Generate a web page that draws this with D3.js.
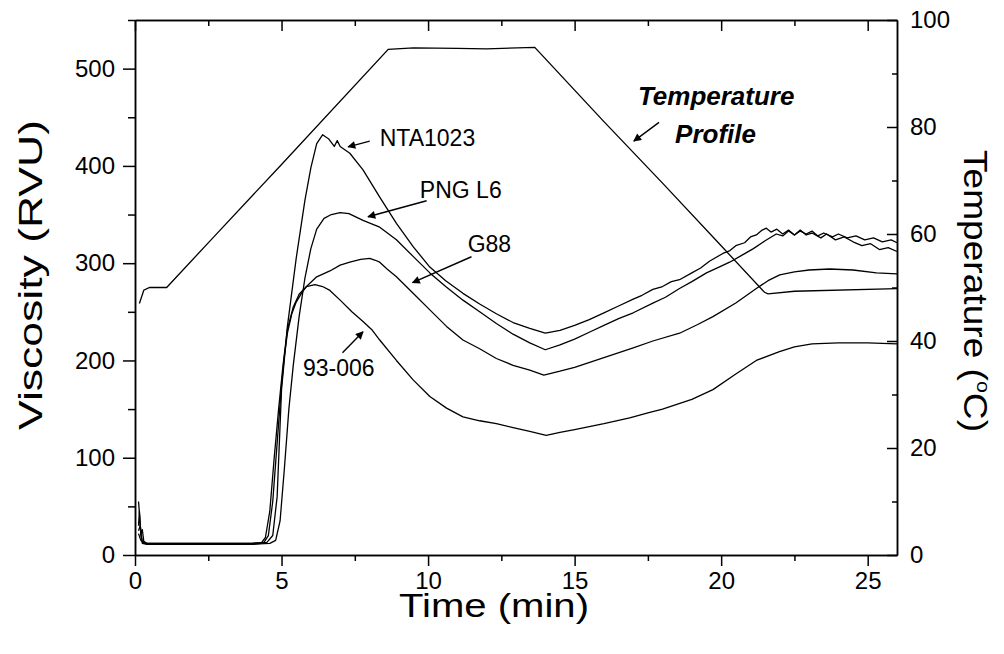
<!DOCTYPE html>
<html>
<head>
<meta charset="utf-8">
<script src="https://cdn.jsdelivr.net/npm/d3@7"></script>
<style>
  body { margin: 0; background: #fff; }
  svg { font-family: "Liberation Sans", Arial, sans-serif; }
  .axis path, .axis line { stroke: #000; stroke-width: 1.5; }
  .axis text { font-size: 24px; fill: #000; }
</style>
</head>
<body>
<div id="chart"></div>
<script>
// data: [time (min), viscosity (RVU)]
const nta1023 = [[0.12,30],[0.15,45],[0.2,20],[0.25,14],[0.35,12],[1,12],[2,12],[3,12],[4,12],[4.5,13],[4.7,20],
  [4.85,60],[5.0,170],[5.2,235],[5.5,305],[5.8,365],[6.0,398],[6.2,423],[6.4,432],[6.6,428],[6.8,420],[6.9,426],
  [7.0,420],[7.33,413],[7.78,396],[8.35,368],[8.92,341],[9.49,317],[10.06,296],[10.6,282],[11.19,269],[11.76,258],
  [12.33,248],[12.9,239],[13.47,233],[14.0,228],[14.5,231],[15,236],[15.5,242],[16,249],[16.5,256],[17,263],
  [17.3,267],[17.67,273],[18,276],[18.3,281],[18.58,283],[19,290],[19.3,295],[19.6,302],[20.06,310],[20.3,313],
  [20.5,318],[20.8,321],[21.0,327],[21.2,329],[21.4,334],[21.54,336],[21.7,332],[21.9,335],[22.1,330],[22.3,334],
  [22.5,329],[22.7,333],[22.9,330],[23.1,333],[23.3,328],[23.5,331],[23.8,327],[24.0,330],[24.3,326],[24.6,328],
  [24.9,324],[25.2,326],[25.5,322],[25.8,324],[26,321]]
const pngL6 = [[0.12,25],[0.18,30],[0.25,12],[0.4,11],[1,11],[2,11],[3,11],[4,11],[4.6,12],[4.8,15],[4.95,35],
  [5.1,90],[5.25,150],[5.4,195],[5.6,245],[5.8,285],[6.0,315],[6.2,335],[6.45,346],[6.7,350],[7.0,352],[7.3,351],
  [7.78,344],[8.35,337],[8.92,324],[9.49,307],[10.06,290],[10.6,276],[11.19,262],[11.76,250],[12.33,238],
  [12.9,227],[13.47,218],[14.0,211],[14.5,216],[15,222],[15.5,229],[16,236],[16.5,243],[17,249],[17.67,259],
  [18.1,265],[18.58,274],[19,281],[19.5,290],[20.0,297],[20.29,301],[20.7,308],[21.1,315],[21.5,323],[21.88,330],
  [22.1,328],[22.3,333],[22.5,329],[22.7,334],[22.9,329],[23.1,331],[23.4,326],[23.6,330],[23.9,324],[24.2,327],
  [24.5,322],[24.8,318],[25.1,320],[25.4,314],[25.7,316],[26,312]]
const g88 = [[0.12,22],[0.2,15],[0.3,12],[1,12],[2,12],[3,12],[4,12],[4.4,13],[4.55,20],[4.7,55],[4.85,115],
  [5.0,175],[5.1,205],[5.2,228],[5.35,248],[5.5,260],[5.7,270],[5.85,276],[6.2,286],[6.65,292],[7.0,298],[7.33,301],
  [7.7,304],[8.01,305],[8.2,303],[8.35,301],[8.6,294],[8.92,286],[9.49,269],[10.06,252],[10.63,235],[11.19,221],
  [11.76,212],[12.33,202],[12.9,195],[13.47,190],[13.95,185],[14.5,189],[15,193],[16,203],[17,213],[17.67,220],
  [18.58,228],[19.2,237],[19.72,245],[20.5,259],[21.2,274],[21.6,282],[22,288],[22.5,291],[23,293],[23.7,294],
  [24.5,293],[25.3,290],[26,289]]
const s93006 = [[0.12,55],[0.16,40],[0.2,22],[0.25,26],[0.3,14],[0.45,11],[1,11],[2,11],[3,11],[4,11],[4.3,12],
  [4.45,18],[4.6,45],[4.75,100],[4.9,150],[5.05,195],[5.2,232],[5.4,255],[5.6,268],[5.85,276],[6.14,278],[6.4,276],
  [6.65,272],[7.0,262],[7.4,250],[7.78,240],[8.1,231],[8.35,221],[8.92,200],[9.49,180],[10.06,163],[10.63,151],
  [11.19,142],[11.76,138],[12.33,135],[12.9,131],[13.47,127],[14.03,123],[14.5,126],[15,129],[16,135],[16.88,141],
  [17.5,146],[18,150],[19,160],[19.72,170],[20.5,186],[21.2,200],[21.99,209],[22.5,214],[23.1,217],[24,218],
  [25,218],[26,217]]
// [time (min), temperature (C)]
const tempProfile = [[0.15,47],[0.3,49.5],[0.5,50],[1.08,50],[2.61,59],[5,73],[8.64,94.5],[9.5,94.8],[11,94.7],
  [12,94.6],[13.64,94.9],[16,81],[18,69.5],[20,57.8],[21.48,49.1],[21.6,48.8],[22.5,49.3],[26,49.8]]

const xTicks = [0, 5, 10, 15, 20, 25]
const xMinor = [2.5, 7.5, 12.5, 17.5, 22.5]
const yTicks = [0, 100, 200, 300, 400, 500]
const yMinor = [50, 150, 250, 350, 450, 550]
const tTicks = [0, 20, 40, 60, 80, 100]
const tMinor = [10, 30, 50, 70, 90]

// labels: text position and arrow in data units (time, viscosity)
const notes = [
  {text: "NTA1023", x: 8.35, y: 420, from: [8.01, 425.5], to: [7.27, 419.6]},
  {text: "PNG L6", x: 9.72, y: 367, from: [9.95, 364.2], to: [7.95, 347.7]},
  {text: "G88", x: 11.35, y: 312, from: [11.48, 306.6], to: [9.47, 279.9]},
  {text: "93-006", x: 5.73, y: 184, from: [7.08, 208], to: [7.78, 229.5]}
]

const W = 1004, H = 654
const plot = {left: 135, right: 897, top: 20, bottom: 555}

const svg = d3.select("#chart").append("svg")
  .attr("width", W).attr("height", H)

const x = d3.scaleLinear().domain([0, 26]).range([plot.left, plot.right])
const y = d3.scaleLinear().domain([0, 550]).range([plot.bottom, plot.top])
const yT = d3.scaleLinear().domain([0, 100]).range([plot.bottom, plot.top])

svg.append("defs").append("marker")
  .attr("id", "head")
  .attr("viewBox", "0 0 10 10")
  .attr("refX", 9).attr("refY", 5)
  .attr("markerWidth", 11).attr("markerHeight", 8)
  .attr("markerUnits", "userSpaceOnUse")
  .attr("orient", "auto")
  .append("path").attr("d", "M0,0L10,5L0,10Z").attr("fill", "#000")

// bottom axis (outward ticks)
svg.append("g").attr("class", "axis")
  .attr("transform", `translate(0,${plot.bottom})`)
  .call(d3.axisBottom(x).tickValues(xTicks).tickSize(11).tickPadding(6).tickSizeOuter(0))
svg.append("g").attr("class", "axis")
  .attr("transform", `translate(0,${plot.bottom})`)
  .call(d3.axisBottom(x).tickValues(xMinor).tickSize(6).tickFormat("").tickSizeOuter(0))
// top axis (inward ticks)
svg.append("g").attr("class", "axis")
  .attr("transform", `translate(0,${plot.top})`)
  .call(d3.axisTop(x).tickValues(xTicks).tickSize(-11).tickFormat("").tickSizeOuter(0))
svg.append("g").attr("class", "axis")
  .attr("transform", `translate(0,${plot.top})`)
  .call(d3.axisTop(x).tickValues(xMinor).tickSize(-6).tickFormat("").tickSizeOuter(0))
// left axis
svg.append("g").attr("class", "axis")
  .attr("transform", `translate(${plot.left},0)`)
  .call(d3.axisLeft(y).tickValues(yTicks).tickSize(12).tickPadding(8).tickSizeOuter(0))
svg.append("g").attr("class", "axis")
  .attr("transform", `translate(${plot.left},0)`)
  .call(d3.axisLeft(y).tickValues(yMinor).tickSize(7).tickFormat("").tickSizeOuter(0))
// right axis, temperature, ticks inward
svg.append("g").attr("class", "axis")
  .attr("transform", `translate(${plot.right},0)`)
  .call(d3.axisRight(yT).tickValues(tTicks).tickSize(-10).tickPadding(13).tickSizeOuter(0))
svg.append("g").attr("class", "axis")
  .attr("transform", `translate(${plot.right},0)`)
  .call(d3.axisRight(yT).tickValues(tMinor).tickSize(-5).tickFormat("").tickSizeOuter(0))

svg.selectAll(".axis path.domain").attr("stroke-width", 1.8)

const line = d3.line().x(d => x(d[0])).y(d => y(d[1]))
const tline = d3.line().x(d => x(d[0])).y(d => yT(d[1]))

svg.selectAll(".curve")
  .data([nta1023, pngL6, g88, s93006])
  .enter().append("path")
  .attr("class", "curve")
  .attr("d", line)
  .attr("fill", "none")
  .attr("stroke", "#000")
  .attr("stroke-width", 1.3)
  .attr("stroke-linejoin", "round")

svg.append("path")
  .attr("d", tline(tempProfile))
  .attr("fill", "none")
  .attr("stroke", "#000")
  .attr("stroke-width", 1.3)

// annotations
notes.forEach(n => {
  svg.append("text")
    .attr("x", x(n.x)).attr("y", y(n.y))
    .attr("font-size", 23)
    .text(n.text)
  svg.append("line")
    .attr("x1", x(n.from[0])).attr("y1", y(n.from[1]))
    .attr("x2", x(n.to[0])).attr("y2", y(n.to[1]))
    .attr("stroke", "#000").attr("stroke-width", 1.4)
    .attr("marker-end", "url(#head)")
})

svg.append("text")
  .attr("x", x(19.83)).attr("y", y(462.5))
  .attr("text-anchor", "middle")
  .attr("font-size", 26).attr("font-weight", "bold").attr("font-style", "italic")
  .text("Temperature")
svg.append("text")
  .attr("x", x(19.81)).attr("y", y(423.4))
  .attr("text-anchor", "middle")
  .attr("font-size", 26).attr("font-weight", "bold").attr("font-style", "italic")
  .text("Profile")
svg.append("line")
  .attr("x1", x(17.88)).attr("y1", y(444.7))
  .attr("x2", x(17.02)).attr("y2", y(425.5))
  .attr("stroke", "#000").attr("stroke-width", 1.4)
  .attr("marker-end", "url(#head)")

// axis titles - the scanned type is wider than Liberation, so stretch to the measured length
function fit(sel, cx, cy, angle, len) {
  const w = sel.node().getComputedTextLength()
  sel.attr("transform", `translate(${cx},${cy}) rotate(${angle}) scale(${len / w},1)`)
}

const vt = svg.append("text")
  .attr("text-anchor", "middle")
  .attr("font-size", 33)
  .text("Viscosity (RVU)")
fit(vt, 42, 275, -90, 310)

const xt = svg.append("text")
  .attr("text-anchor", "middle")
  .attr("font-size", 33)
  .text("Time (min)")
fit(xt, 494, 617, 0, 190)

const tt = svg.append("text")
  .attr("text-anchor", "middle")
  .attr("font-size", 33)
tt.append("tspan").text("Temperature (")
tt.append("tspan").attr("font-size", 19).attr("dy", -13).text("o")
tt.append("tspan").attr("dy", 13).text("C)")
fit(tt, 964, 291, 90, 282)
</script>
</body>
</html>
